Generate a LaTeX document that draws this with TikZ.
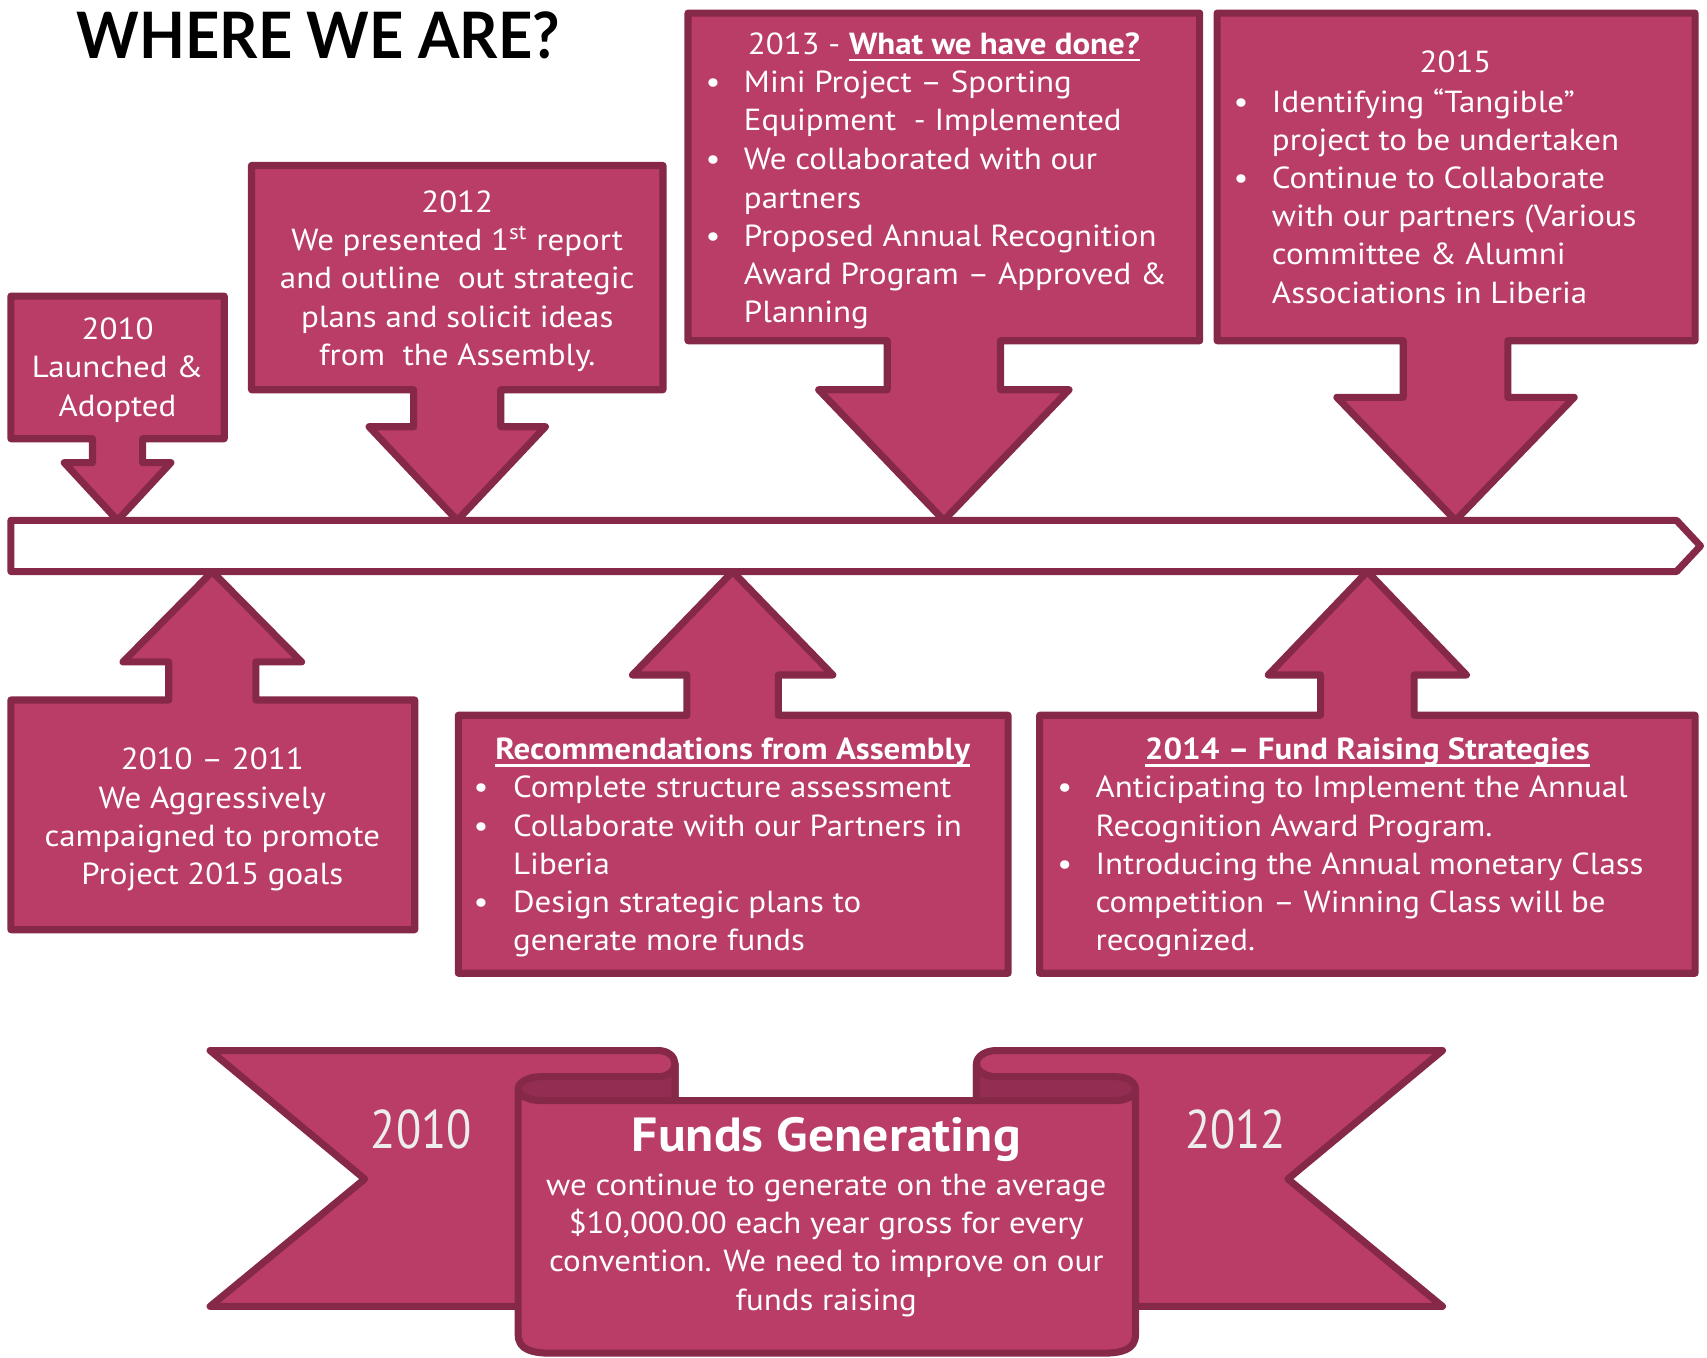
\documentclass[tikz,border=0pt]{standalone}
\usepackage{fontspec}
\setmainfont{PT Sans}[FakeStretch=1.08]
\newfontfamily\plainfont{PT Sans}
\newfontfamily\titlefont{Lato}
\definecolor{rfill}{RGB}{185,61,103}
\definecolor{rline}{RGB}{134,41,73}
\definecolor{rdark}{RGB}{148,45,82}
\newcommand\bodyfont{\fontsize{14}{17.6}\selectfont}
\newcommand\lbox[1]{\parbox[t]{300pt}{\bodyfont\raggedright #1}}
\newcommand\cbox[1]{\parbox[t]{300pt}{\bodyfont\centering #1}}
\newcommand\ulin[1]{\leavevmode\setbox0\hbox{#1}\rlap{\rule[-3.2pt]{\wd0}{1.1pt}}\box0}
\newcommand\downcall[9]{%
 \draw[shp] (#1,#2) -- (#3,#2) -- (#3,#4) -- ({#5+#6},#4) -- ({#5+#6},#8) -- ({#5+#7},#8) -- (#5,#9) -- ({#5-#7},#8) -- ({#5-#6},#8) -- ({#5-#6},#4) -- (#1,#4) -- cycle;}
\newcommand\upcall[9]{%
 \draw[shp] (#1,#2) -- ({#5-#6},#2) -- ({#5-#6},#8) -- ({#5-#7},#8) -- (#5,#9) -- ({#5+#7},#8) -- ({#5+#6},#8) -- ({#5+#6},#2) -- (#3,#2) -- (#3,#4) -- (#1,#4) -- cycle;}
\tikzset{
 shp/.style={fill=rfill, draw=rline, line width=3.25pt, line join=round},
 strip/.style={fill=rdark, draw=rline, line width=3.25pt, line join=round},
 txt/.style={text=white, inner sep=0pt},
 bul/.style={text=white, inner sep=0pt, anchor=base, font=\bodyfont},
}
\begin{document}
\begin{tikzpicture}[x=0.5pt,y=-0.5pt]
\useasboundingbox (0,0) rectangle (1568,1247);
% title
\node[anchor=base west, inner sep=0pt] (title) at (70,53.5) {\resizebox{222pt}{21.5pt}{\titlefont\bfseries WHERE WE ARE?}};
% timeline bar
\draw[draw=rline, fill=white, line width=3.25pt, line join=round] (10,478) -- (1540,478) -- (1562,501.5) -- (1540,525) -- (10,525) -- cycle;
% callouts above
\downcall{10}{272}{206}{403}{108}{23}{49}{425}{478}
\downcall{231}{152}{609}{358}{420}{40}{81}{392}{478}
\downcall{632}{12}{1102}{313}{867}{52}{115}{358}{478}
\downcall{1118}{12}{1557}{313}{1337}{48}{109}{365}{478}
% callouts below
\upcall{10}{643}{381}{854}{195}{40}{82}{608}{525}
\upcall{421}{657}{926}{894}{673}{42}{92}{620}{525}
\upcall{955}{657}{1557}{894}{1256}{43}{91}{620}{525}
% box A
\node[txt, anchor=base] (ta) at (108,312) {\cbox{2010\\Launched \&\\Adopted}};
% box B
\node[txt, anchor=base] (tb) at (420,195) {\cbox{2012\\We presented 1\textsuperscript{st} report\\and outline\ \ out strategic\\plans and solicit ideas\\from\ \ the Assembly.}};
% box C
\node[txt, anchor=base] (tch) at (867,50) {\cbox{2013 - \ulin{\bfseries What we have done?}}};
\node[bul] (bc1) at (655,85) {•};
\node[bul] (bc2) at (655,156) {•};
\node[bul] (bc3) at (655,226) {•};
\node[txt, anchor=base west] (tc1) at (683,85) {\lbox{Mini Project – Sporting\\Equipment\ \ - Implemented}};
\node[txt, anchor=base west] (tc2) at (683,156) {\lbox{We collaborated with our\\partners}};
\node[txt, anchor=base west] (tc3) at (683,226) {\lbox{Proposed Annual Recognition\\Award Program – Approved \&\\Planning}};
% box D
\node[txt, anchor=base] (tdh) at (1337,67) {\cbox{2015}};
\node[bul] (bd1) at (1140,103) {•};
\node[bul] (bd2) at (1140,173) {•};
\node[txt, anchor=base west] (td1) at (1168,103) {\lbox{Identifying “Tangible”\\project to be undertaken}};
\node[txt, anchor=base west] (td2) at (1168,173) {\lbox{Continue to Collaborate\\with our partners (Various\\committee \& Alumni\\Associations in Liberia}};
% box E
\node[txt, anchor=base] (te) at (195,707) {\cbox{2010 – 2011\\We Aggressively\\campaigned to promote\\Project 2015 goals}};
% box F
\node[txt, anchor=base] (tfh) at (673,698) {\cbox{\ulin{\bfseries Recommendations from Assembly}}};
\node[bul] (bf1) at (442,733) {•};
\node[bul] (bf2) at (442,768) {•};
\node[bul] (bf3) at (442,838) {•};
\node[txt, anchor=base west] (tf1) at (471,733) {\lbox{Complete structure assessment}};
\node[txt, anchor=base west] (tf2) at (471,768) {\lbox{Collaborate with our Partners in\\Liberia}};
\node[txt, anchor=base west] (tf3) at (471,838) {\lbox{Design strategic plans to\\generate more funds}};
% box G
\node[txt, anchor=base] (tgh) at (1256,698) {\cbox{\ulin{\bfseries 2014 – Fund Raising Strategies}}};
\node[bul] (bg1) at (978,733) {•};
\node[bul] (bg2) at (978,803) {•};
\node[txt, anchor=base west] (tg1) at (1006,733) {\lbox{Anticipating to Implement the Annual\\Recognition Award Program.}};
\node[txt, anchor=base west] (tg2) at (1006,803) {\lbox{Introducing the Annual monetary Class\\competition – Winning Class will be\\recognized.}};
% ribbon banner
\draw[shp] (193,965) -- (605,965) arc[start angle=90,end angle=0,x radius=7.5pt,y radius=6pt] -- (620,1200) -- (193,1200) -- (335,1083) -- cycle;
\draw[shp] (1325,965) -- (915,965) arc[start angle=90,end angle=180,x radius=9pt,y radius=6pt] -- (897,1200) -- (1325,1200) -- (1183,1083) -- cycle;
\draw[strip] (620,977) arc[start angle=0,end angle=-90,x radius=7.5pt,y radius=6pt] -- (497,989) arc[start angle=90,end angle=270,x radius=10.5pt,y radius=5.5pt] -- (620,1011) -- cycle;
\draw[strip] (897,977) arc[start angle=180,end angle=270,x radius=9pt,y radius=6pt] -- (1025,989) arc[start angle=90,end angle=-90,x radius=9pt,y radius=5.5pt] -- (897,1011) -- cycle;
\draw[shp] (476,1000) arc[start angle=180,end angle=270,x radius=10.5pt,y radius=5.5pt] -- (1025,1011) arc[start angle=270,end angle=360,x radius=9pt,y radius=5.5pt] -- (1043,1226) .. controls (1043,1240) and (1030,1243) .. (1012,1243) -- (507,1243) .. controls (489,1243) and (476,1240) .. (476,1226) -- cycle;
\node[txt, anchor=base, text=white!93!black, font=\plainfont\fontsize{25}{30}\selectfont] (y1) at (387,1055) {\scalebox{0.85}[1]{2010}};
\node[txt, anchor=base, text=white!93!black, font=\plainfont\fontsize{25}{30}\selectfont] (y2) at (1135,1055) {\scalebox{0.85}[1]{2012}};
\node[txt, anchor=base, font=\bfseries\fontsize{22}{26}\selectfont] (fg) at (759,1058) {Funds Generating};
\node[txt, anchor=base] (fb) at (759,1098) {\cbox{we continue to generate on the average\\\$10,000.00 each year gross for every\\convention. We need to improve on our\\funds raising}};
\end{tikzpicture}
\end{document}
